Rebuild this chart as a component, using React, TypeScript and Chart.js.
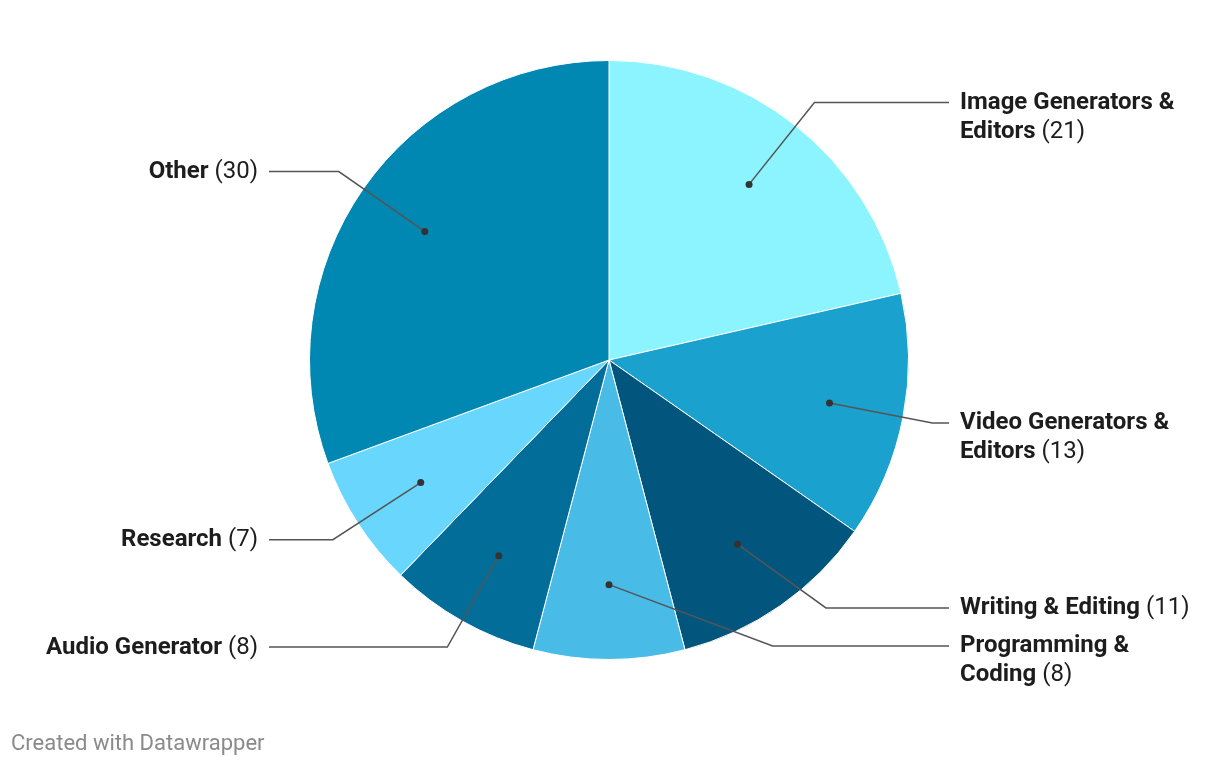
import React, { useEffect, useRef } from "react";
import { Chart, registerables } from "chart.js";

Chart.register(...registerables);

const categories = [
  "Image Generators & Editors",
  "Video Generators & Editors",
  "Writing & Editing",
  "Programming & Coding",
  "Audio Generator",
  "Research",
  "Other",
];
const values = [21, 13, 11, 8, 8, 7, 30];
const colors = ["#8bf4fe", "#1aa1cd", "#02567d", "#48bbe7", "#016d98", "#68d6fd", "#0087b2"];

const FONT = "Roboto";
const LABEL_SIZE = 24;
const LINE_H = 29;
const WRAP = 240;

type Tok = { t: string; bold: boolean };

function wrapTokens(ctx: CanvasRenderingContext2D, toks: Tok[]) {
  const setF = (b: boolean) => (ctx.font = `${b ? 700 : 400} ${LABEL_SIZE}px ${FONT}`);
  const lines: { toks: Tok[]; w: number }[] = [];
  let cur: Tok[] = [];
  let w = 0;
  for (const tk of toks) {
    setF(tk.bold);
    const tw = ctx.measureText(tk.t).width;
    const sp = ctx.measureText(" ").width;
    const add = cur.length ? sp + tw : tw;
    if (cur.length && w + add > WRAP) {
      lines.push({ toks: cur, w });
      cur = [tk];
      w = tw;
    } else {
      cur.push(tk);
      w += add;
    }
  }
  if (cur.length) lines.push({ toks: cur, w });
  return lines;
}

const leaderPlugin = {
  id: "leaderLabels",
  afterDatasetsDraw(chart: any) {
    const ctx: CanvasRenderingContext2D = chart.ctx;
    const meta = chart.getDatasetMeta(0);
    const labels: string[] = chart.data.labels;
    const data: number[] = chart.data.datasets[0].data;
    type Item = {
      i: number; mid: number; cx: number; cy: number; R: number; r1: number;
      side: number; desired: number; y0: number; lines: any[];
    };
    const items: Item[] = meta.data.map((arc: any, i: number) => {
      const p = arc.getProps(["x", "y", "startAngle", "endAngle", "outerRadius"], true);
      const mid = (p.startAngle + p.endAngle) / 2;
      const r1 = p.outerRadius * 1.1;
      const side = Math.cos(mid) > -0.01 ? 1 : -1;
      const toks: Tok[] = labels[i].split(" ").map((t) => ({ t, bold: true }));
      toks.push({ t: `(${data[i]})`, bold: false });
      const lines = wrapTokens(ctx, toks);
      const desired = p.y + r1 * Math.sin(mid);
      return { i, mid, cx: p.x, cy: p.y, R: p.outerRadius, r1, side, desired, y0: desired, lines };
    });

    const gap = 9;
    const half = LINE_H / 2;
    for (const side of [1, -1]) {
      const group = items.filter((it) => it.side === side).sort((a, b) => a.desired - b.desired);
      if (!group.length) continue;
      const maxBottom = group[0].cy + group[0].r1;
      let prevBottom = -Infinity;
      for (const it of group) {
        it.y0 = Math.max(it.desired, prevBottom + gap + half);
        prevBottom = it.y0 + (it.lines.length - 1) * LINE_H + half;
      }
      let limit = maxBottom;
      for (let k = group.length - 1; k >= 0; k--) {
        const it = group[k];
        const bottom = it.y0 + (it.lines.length - 1) * LINE_H + half;
        if (bottom > limit) it.y0 -= bottom - limit;
        limit = it.y0 - half - gap;
      }
    }

    ctx.save();
    for (const it of items) {
      const { cx, cy, R, r1, side, mid, y0 } = it;
      const dx = cx + Math.cos(mid) * R * 0.75;
      const dy = cy + Math.sin(mid) * R * 0.75;
      const ddy = y0 - cy;
      const ex = cx + side * Math.sqrt(Math.max(0, r1 * r1 - ddy * ddy));
      const lineEnd = cx + side * 340;
      ctx.strokeStyle = "#555555";
      ctx.lineWidth = 1.5;
      ctx.beginPath();
      ctx.moveTo(dx, dy);
      ctx.lineTo(ex, y0);
      ctx.lineTo(lineEnd, y0);
      ctx.stroke();
      ctx.fillStyle = "#333333";
      ctx.beginPath();
      ctx.arc(dx, dy, 3.5, 0, Math.PI * 2);
      ctx.fill();

      ctx.fillStyle = "#1d1d1d";
      ctx.textBaseline = "middle";
      ctx.textAlign = "left";
      const textX = cx + side * 351;
      it.lines.forEach((ln: any, li: number) => {
        let x = side > 0 ? textX : textX - ln.w;
        const y = y0 + li * LINE_H + 0.5;
        ln.toks.forEach((tk: Tok, ti: number) => {
          ctx.font = `${tk.bold ? 700 : 400} ${LABEL_SIZE}px ${FONT}`;
          if (ti > 0) x += ctx.measureText(" ").width;
          ctx.fillText(tk.t, x, y);
          x += ctx.measureText(tk.t).width;
        });
      });
    }
    ctx.restore();
  },
};

export default function App() {
  const ref = useRef<HTMLCanvasElement>(null);
  useEffect(() => {
    if (!ref.current) return;
    const chart = new Chart(ref.current, {
      type: "pie",
      data: {
        labels: categories,
        datasets: [
          {
            data: values,
            backgroundColor: colors,
            borderColor: "#ffffff",
            borderWidth: 1,
          },
        ],
      },
      options: {
        responsive: false,
        animation: false,
        layout: { padding: { left: 309, right: 311, top: 60, bottom: 106 } },
        plugins: { legend: { display: false }, tooltip: { enabled: false } },
      },
      plugins: [leaderPlugin],
    });
    return () => chart.destroy();
  }, []);
  return (
    <div style={{ position: "absolute", left: 0, top: 0, width: 1220, height: 766, background: "#fff" }}>
      <canvas ref={ref} width={1220} height={766} style={{ position: "absolute", left: 0, top: 0 }} />
      <div
        style={{
          position: "absolute",
          left: 11,
          top: 729,
          fontFamily: "Roboto",
          fontSize: 22,
          lineHeight: "28px",
          color: "#8a8a8a",
        }}
      >
        Created with Datawrapper
      </div>
    </div>
  );
}
